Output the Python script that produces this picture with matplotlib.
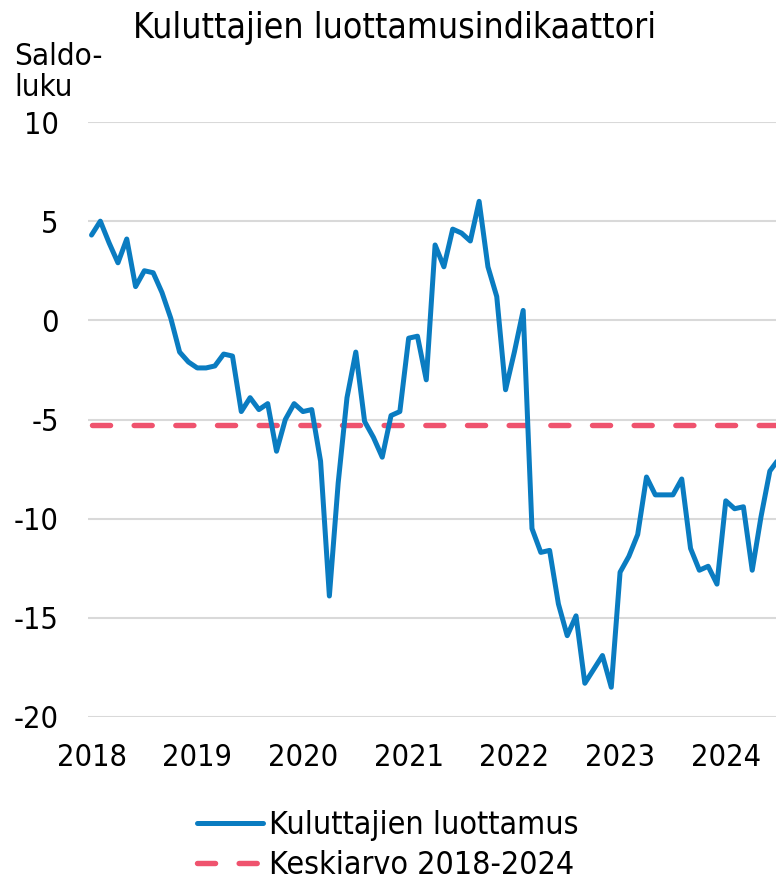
import matplotlib
matplotlib.use("Agg")
import matplotlib.pyplot as plt
import numpy as np

plt.rcParams['font.family'] = ['DejaVu Sans']
plt.rcParams['font.stretch'] = 'condensed'
plt.rcParams['lines.scale_dashes'] = False

years = ["2018", "2019", "2020", "2021", "2022", "2023", "2024"]
confidence = [4.3, 5.0, 3.9, 2.9, 4.1, 1.7, 2.5, 2.4, 1.4, 0.1, -1.6, -2.1,
              -2.4, -2.4, -2.3, -1.7, -1.8, -4.6, -3.9, -4.5, -4.2, -6.6, -5.0, -4.2,
              -4.6, -4.5, -7.1, -13.9, -8.2, -3.9, -1.6, -5.1, -5.9, -6.9, -4.8, -4.6,
              -0.9, -0.8, -3.0, 3.8, 2.7, 4.6, 4.4, 4.0, 6.0, 2.7, 1.2, -3.5,
              -1.6, 0.5, -10.5, -11.7, -11.6, -14.3, -15.9, -14.9, -18.3, -17.6, -16.9, -18.5,
              -12.7, -11.9, -10.8, -7.9, -8.8, -8.8, -8.8, -8.0, -11.5, -12.6, -12.4, -13.3,
              -9.1, -9.5, -9.4, -12.6, -9.9, -7.6, -7.0]
average_value = -5.27
yticks = [10, 5, 0, -5, -10, -15, -20]

months = np.arange(len(confidence))
average = [average_value] * len(confidence)

W, H = 776, 884
fig = plt.figure(figsize=(W / 100, H / 100), dpi=100)
ax = fig.add_axes([88 / W, (H - 717) / H, (W - 88) / W, 595 / H])

blue = '#0A7CC1'
red = '#EF536E'

ax.plot(months, confidence, color=blue, lw=3.6, solid_joinstyle='round',
        solid_capstyle='round', label='Kuluttajien luottamus', zorder=3)
ax.plot(months, average, color=red, lw=3.9, dashes=(13, 17), dash_capstyle='round',
        label='Keskiarvo 2018-2024', zorder=2)

ax.set_xlim(-0.4, 77.7)
ax.set_ylim(-20, 10)
ax.set_yticks(yticks)
ax.set_yticklabels([str(v) for v in yticks])
ax.set_xticks(np.arange(len(years)) * 12)
ax.set_xticklabels(years)
ax.grid(axis='y', color='#D9D9D9', lw=1.5)
ax.set_axisbelow(True)
for s in ax.spines.values():
    s.set_visible(False)
ax.tick_params(axis='both', length=0, labelsize=22)
ax.tick_params(axis='y', pad=21)
ax.tick_params(axis='x', pad=19)

fig.text(395 / W, 1 - 28 / H, 'Kuluttajien luottamusindikaattori', ha='center', va='center',
         fontsize=25.5)
fig.text(14 / W, 1 - 42 / H, 'Saldo-\nluku', ha='left', va='top', fontsize=22.5,
         linespacing=1.1)

fig.legend(loc='upper center', bbox_to_anchor=(0.5, 1 - 797 / H), frameon=False,
           fontsize=23, handlelength=2.05, handletextpad=0.2, labelspacing=0.3,
           borderaxespad=0)

fig.savefig('out.png', dpi=100)
